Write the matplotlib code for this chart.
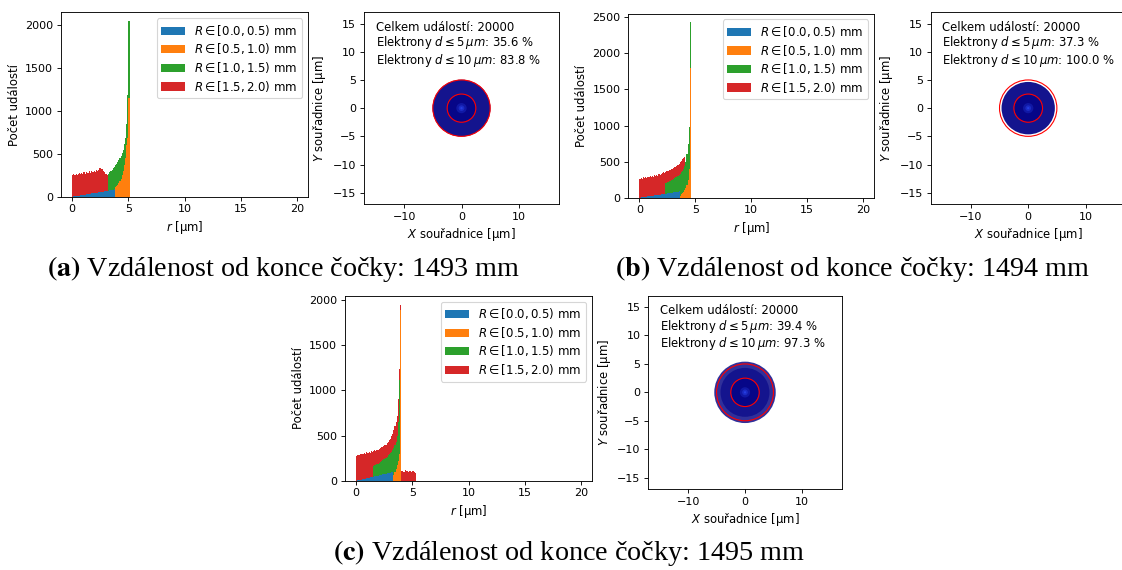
import numpy as np
import matplotlib
matplotlib.use("Agg")
import matplotlib.pyplot as plt
from matplotlib.patches import Circle

W, H, DPI = 1122, 570, 80

# ---------------- data ----------------
BIN = 0.1
hist_range = (0.0, 20.0)
labels = [r"$R \in [0.0, 0.5)$ mm", r"$R \in [0.5, 1.0)$ mm",
          r"$R \in [1.0, 1.5)$ mm", r"$R \in [1.5, 2.0)$ mm"]
colors = ["#1f77b4", "#ff7f0e", "#2ca02c", "#d62728"]

# panel (a) : start of first bin [um] and counts per 0.1 um bin
blue_a_start = 0.0
blue_a = [1, 3, 5, 7, 9, 11, 13, 15, 18, 20, 22, 24, 27, 29, 31, 33, 35, 38, 40,
          42, 44, 47, 49, 51, 54, 56, 58, 60, 63, 65, 67, 70, 72, 74, 77, 79, 82, 85]
orange_a_start = 3.7
orange_a = [60, 110, 125, 140, 155, 180, 210, 250, 300, 370, 450, 600, 690, 1150]
green_a_start = 3.2
green_a = [270, 285, 300, 315, 330, 345, 365, 385, 405, 425, 450, 475, 505, 550,
           610, 690, 850, 1190, 2050]
red_a_start = 0.0
red_a = [250, 262, 255, 270, 258, 268, 275, 262, 280, 270, 285, 268, 290, 275, 282,
         295, 278, 300, 288, 305, 292, 310, 298, 315, 330, 340, 320, 300, 285, 270,
         262, 255]

# panel (b)
blue_b_start = 0.0
blue_b = [1, 3, 5, 8, 10, 12, 15, 17, 19, 22, 24, 27, 29, 31, 34, 36, 39, 41, 44,
          46, 48, 51, 53, 56, 58, 61, 63, 66, 68, 71, 73, 76, 78, 81, 84, 87]
orange_b_start = 3.6
orange_b = [30, 55, 70, 85, 105, 135, 180, 250, 400, 1790]
green_b_start = 2.3
green_b = [200, 210, 215, 225, 230, 240, 250, 260, 270, 280, 290, 300, 315, 330,
           350, 370, 400, 440, 500, 610, 750, 980, 2430]
red_b_start = 0.0
red_b = [255, 270, 262, 280, 268, 285, 275, 290, 280, 295, 288, 300, 290, 310, 298,
         315, 305, 325, 315, 335, 340, 350, 345, 360, 365, 375, 380, 390, 395, 400,
         410, 420, 430, 445, 455, 470, 490, 505, 530, 550, 565]

# panel (c)
blue_c_start = 0.0
blue_c = [1, 3, 6, 9, 12, 15, 18, 21, 24, 27, 30, 33, 36, 39, 42, 45, 48, 51, 54,
          57, 60, 63, 66, 69, 72, 75, 78, 81, 84, 87, 90, 94, 97]
orange_c_start = 3.2
orange_c = [20, 60, 100, 130, 170, 220, 290, 1890]
green_c_start = 1.5
green_c = [165, 170, 175, 180, 190, 200, 205, 215, 225, 235, 245, 255, 265, 280,
           295, 305, 320, 340, 365, 390, 430, 500, 650, 1110]
red_c_start = 0.0
red_c = [270, 285, 280, 295, 290, 300, 295, 305, 300, 315, 305, 320, 310, 325, 320,
         330, 335, 330, 345, 340, 355, 360, 370, 375, 385, 395, 400, 420, 430, 445,
         460, 490, 520, 560, 610, 650, 720, 900, 1240, 1950,
         105, 110, 100, 115, 105, 110, 100, 108, 112, 95, 105, 100, 90]

# scatter panels
panel_letters = ["a", "b", "c"]
distances_mm = [1493, 1494, 1495]
total_events = [20000, 20000, 20000]
pct_d5 = [35.6, 37.3, 39.4]
pct_d10 = [83.8, 100.0, 97.3]
cloud_radius = [5.05, 4.65, 5.4]       # outer extent of the electron cloud [um]
cloud_core = [5.05, 4.65, 4.3]         # radius of the dense core [um]
circle_diam = [5, 10]                  # reference circles d <= 5, d <= 10 um

# --------------- layout ---------------
plt.rcParams["xtick.labelsize"] = 10
plt.rcParams["ytick.labelsize"] = 10
plt.rcParams["axes.labelsize"] = 10.5

fig = plt.figure(figsize=(W / DPI, H / DPI), dpi=DPI)


def rect(l, t, r, b):
    return [l / W, (H - b) / H, (r - l) / W, (b - t) / H]


hist_rects = [rect(61, 12.3, 308.3, 196.7), rect(628.3, 13.5, 874.3, 197.7),
              rect(345, 295.7, 592.3, 480.7)]
scat_rects = [rect(364, 12.3, 559, 204), rect(930.7, 12.3, 1125.7, 204),
              rect(648.3, 295.7, 841.7, 489)]
caption_xy = [(284, 276), (852, 276), (569, 559.5)]

series = [
    [(blue_a_start, blue_a), (orange_a_start, orange_a), (green_a_start, green_a), (red_a_start, red_a)],
    [(blue_b_start, blue_b), (orange_b_start, orange_b), (green_b_start, green_b), (red_b_start, red_b)],
    [(blue_c_start, blue_c), (orange_c_start, orange_c), (green_c_start, green_c), (red_c_start, red_c)],
]

bins = np.arange(hist_range[0], hist_range[1] + BIN / 2, BIN)

for i in range(3):
    ax = fig.add_axes(hist_rects[i])
    xs, ws = [], []
    for start, vals in series[i]:
        vals = np.asarray(vals, float)
        xs.append(start + BIN * (np.arange(len(vals)) + 0.5))
        ws.append(vals)
    n, b, patches = ax.hist(xs, bins=bins, weights=ws, histtype="stepfilled",
                            color=colors, label=labels)
    ax.legend([p[0] for p in patches], labels, loc="upper right",
              fontsize=10.6, labelspacing=0.3)
    ax.set_xlabel(r"$r$ [μm]")
    ax.set_ylabel("Počet událostí")

    sx = fig.add_axes(scat_rects[i])
    sx.set_xlim(-17, 17)
    sx.set_ylim(-17, 17)
    # electron cloud
    if cloud_radius[i] > cloud_core[i]:
        sx.add_patch(Circle((0, 0), cloud_radius[i], color="#30309a", lw=0, zorder=1))
    sx.add_patch(Circle((0, 0), cloud_core[i], color="#14148e", lw=0, zorder=1.1))
    sx.add_patch(Circle((0, 0), 2.4, color="#060688", lw=0, zorder=1.2))
    for rr, a in [(0.9, 0.25), (0.5, 0.35), (0.2, 0.5)]:
        sx.add_patch(Circle((0, 0), rr, color="#3050ff", alpha=a, lw=0, zorder=1.3))
    for d in circle_diam:
        sx.add_patch(Circle((0, 0), d / 2, fill=False, ec="red", lw=1.0, zorder=3))
    sx.text(0.06, 0.957,
            f"Celkem událostí: {total_events[i]}\n"
            rf"Elektrony $d \leq 5\,\mu m$: {pct_d5[i]:.1f} %" "\n"
            rf"Elektrony $d \leq 10\,\mu m$: {pct_d10[i]:.1f} %",
            transform=sx.transAxes, ha="left", va="top", fontsize=10.5,
            linespacing=1.05)
    sx.set_xlabel(r"$X$ souřadnice [μm]")
    sx.set_ylabel(r"$Y$ souřadnice [μm]")

    cx, cy = caption_xy[i]
    fig.text(cx / W, (H - cy) / H,
             rf"$\mathbf{{({panel_letters[i]})}}$ Vzdálenost od konce čočky: {distances_mm[i]} mm",
             ha="center", va="baseline", fontsize=25.3,
             family="Liberation Serif", math_fontfamily="stix")

fig.savefig("out.png", dpi=DPI)
